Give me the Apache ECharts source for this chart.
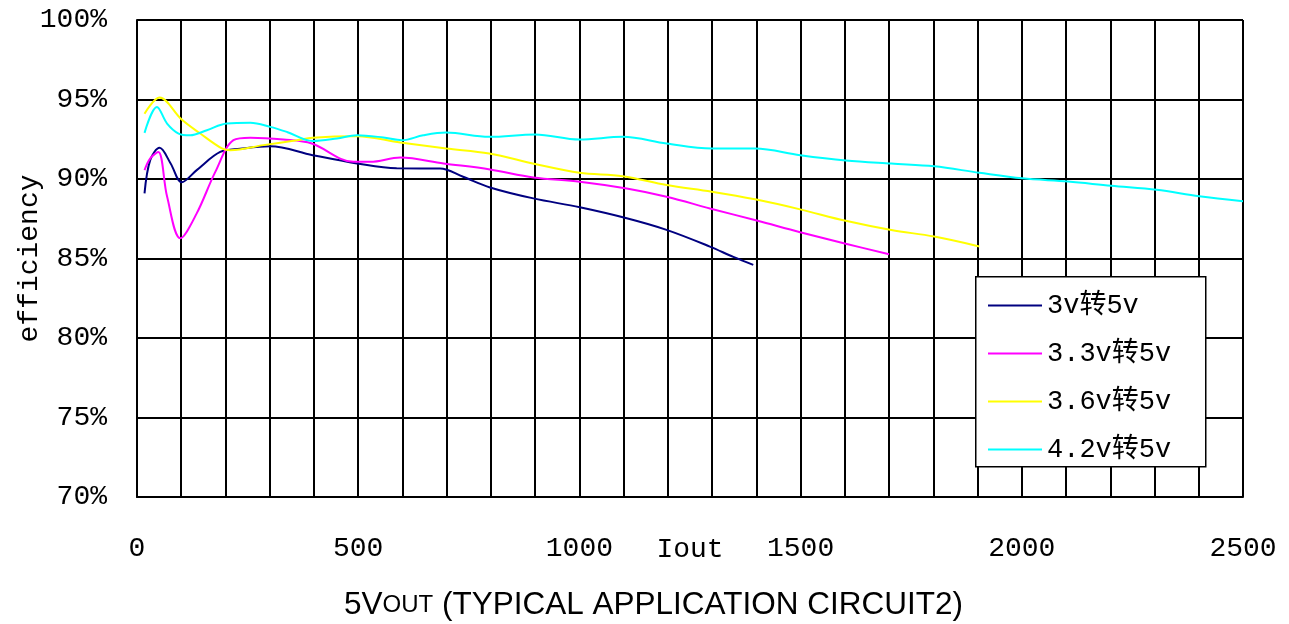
<!DOCTYPE html>
<html><head><meta charset="utf-8">
<script src="https://cdn.jsdelivr.net/npm/echarts@6/dist/echarts.min.js"></script>
<style>html,body{margin:0;padding:0;background:#fff}#c{width:1289px;height:624px}</style>
</head><body><div id="c"></div>
<script>
const seriesNames = ['3v转5v', '3.3v转5v', '3.6v转5v', '4.2v转5v'];
const seriesColors = ['#000080', '#FF00FF', '#FFFF00', '#00FFFF'];
const xTickLabels = [0, 500, 1000, 1500, 2000, 2500];
const yTickLabels = [70, 75, 80, 85, 90, 95, 100];

const s1X = [17, 30, 51, 76, 101, 135, 188, 233, 301, 397, 497, 587, 685, 737, 798, 896, 1001, 1107, 1197, 1295, 1348, 1393];
const s1Y = [89.1, 91.2, 91.96, 90.98, 89.8, 90.56, 91.7, 91.9, 92.06, 91.5, 90.98, 90.67, 90.66, 90.14, 89.47, 88.78, 88.22, 87.53, 86.8, 85.75, 85.1, 84.6];

const s2X = [17, 30, 48, 68, 98, 135, 177, 218, 256, 331, 395, 489, 527, 595, 693, 798, 896, 1001, 1107, 1197, 1295, 1403, 1499, 1602, 1700];
const s2Y = [90.56, 91.3, 91.7, 88.9, 86.27, 87.84, 90.45, 92.44, 92.6, 92.48, 92.23, 91.08, 91.08, 91.35, 90.98, 90.6, 90.1, 89.83, 89.4, 88.88, 88.15, 87.37, 86.65, 85.93, 85.27];

const s3X = [17, 51, 101, 143, 192, 211, 286, 361, 397, 497, 595, 699, 796, 900, 1000, 1098, 1197, 1299, 1397, 1499, 1602, 1705, 1802, 1904];
const s3Y = [94.11, 95.12, 93.74, 92.86, 91.92, 91.81, 92.13, 92.44, 92.6, 92.69, 92.3, 91.92, 91.6, 90.94, 90.39, 90.18, 89.62, 89.2, 88.72, 88.09, 87.37, 86.79, 86.38, 85.76];

const s4X = [17, 45, 68, 94, 120, 158, 203, 256, 301, 339, 397, 452, 497, 557, 599, 647, 699, 796, 900, 1000, 1098, 1197, 1299, 1397, 1499, 1602, 1705, 1802, 1904, 2001, 2105, 2202, 2305, 2401, 2500];
const s4Y = [92.9, 94.53, 93.49, 92.86, 92.75, 93.07, 93.49, 93.53, 93.28, 92.96, 92.39, 92.55, 92.75, 92.61, 92.44, 92.75, 92.92, 92.65, 92.8, 92.48, 92.65, 92.23, 91.92, 91.92, 91.5, 91.17, 90.97, 90.8, 90.39, 90.04, 89.84, 89.57, 89.32, 88.91, 88.6];

const allX = [s1X, s2X, s3X, s4X];
const allY = [s1Y, s2Y, s3Y, s4Y];

const monoFont = "'Liberation Mono', 'Noto Sans CJK SC', monospace";
const sansFont = "'Liberation Sans', Arial, sans-serif";
const chart = echarts.init(document.getElementById('c'), null, {renderer: 'canvas'});

const series = seriesNames.map((name, i) => ({
  name: name,
  type: 'line',
  data: allX[i].map((x, k) => [x, allY[i][k]]),
  symbol: 'none',
  smooth: 0.35,
  lineStyle: {color: seriesColors[i], width: 2},
  itemStyle: {color: seriesColors[i]},
  z: 3
}));

chart.setOption({
  animation: false,
  backgroundColor: '#ffffff',
  grid: {left: 137, right: 46, top: 20, bottom: 127, containLabel: false, outerBoundsMode: 'none'},
  title: {
    text: '{a|5V}{b|OUT}{a| (TYPICAL APPLICATION CIRCUIT2)}',
    left: 339, top: 584,
    textStyle: {
      fontWeight: 'normal',
      rich: {
        a: {fontFamily: sansFont, fontSize: 31.5, fontWeight: 'normal', color: '#000'},
        b: {fontFamily: sansFont, fontSize: 24, fontWeight: 'normal', color: '#000'}
      }
    }
  },
  legend: {
    orient: 'vertical',
    left: 988, top: 292, z: 20,
    icon: 'rect',
    itemWidth: 54, itemHeight: 2, itemGap: 21,
    padding: 0,
    textStyle: {fontFamily: monoFont, fontSize: 27, color: '#000', lineHeight: 26},
    data: seriesNames
  },
  graphic: [{
    type: 'rect', left: 975, top: 276, z: 10,
    shape: {width: 230, height: 190},
    style: {fill: '#fff', stroke: '#000', lineWidth: 1.5}
  }],
  xAxis: {
    type: 'value', min: 0, max: 2500, interval: 100,
    name: 'Iout', nameLocation: 'middle', nameGap: 39, nameMoveOverlap: false,
    nameTextStyle: {fontFamily: monoFont, fontSize: 28, color: '#000'},
    axisLine: {show: true, lineStyle: {color: '#000', width: 2}},
    axisTick: {show: false},
    splitLine: {show: true, lineStyle: {color: '#000', width: 2}},
    axisLabel: {
      margin: 38, fontFamily: monoFont, fontSize: 28, color: '#000',
      formatter: v => xTickLabels.includes(v) ? String(v) : ''
    }
  },
  yAxis: {
    type: 'value', min: 70, max: 100, interval: 5,
    name: 'efficiency', nameLocation: 'middle', nameGap: 93, nameRotate: 90, nameMoveOverlap: false,
    nameTextStyle: {fontFamily: monoFont, fontSize: 28, color: '#000'},
    axisLine: {show: true, lineStyle: {color: '#000', width: 2}},
    axisTick: {show: false},
    splitLine: {show: true, lineStyle: {color: '#000', width: 2}},
    axisLabel: {
      margin: 30, fontFamily: monoFont, fontSize: 28, color: '#000',
      formatter: v => yTickLabels.includes(v) ? v + '%' : ''
    }
  },
  series: series
});
</script></body></html>
